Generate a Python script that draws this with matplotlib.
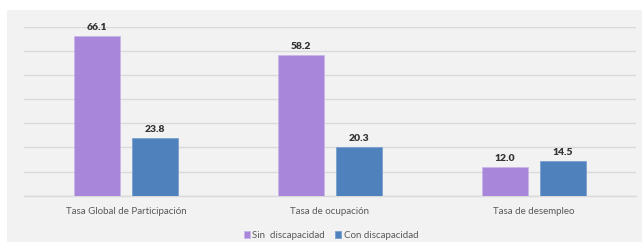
import matplotlib
matplotlib.use("Agg")
import matplotlib.pyplot as plt
from matplotlib.patches import Rectangle
import numpy as np

categories = ["Tasa Global de Participación", "Tasa de ocupación", "Tasa de desempleo"]
sin_disc = [66.1, 58.2, 12.0]
con_disc = [23.8, 20.3, 14.5]
series_names = ["Sin  discapacidad", "Con discapacidad"]

W, H = 644, 242
fig = plt.figure(figsize=(W / 100, H / 100), dpi=100)
fig.patch.set_facecolor("white")
fig.patches.append(Rectangle((7 / W, 0), (642 - 7) / W, (H - 10) / H,
                             transform=fig.transFigure, facecolor="#f2f2f2",
                             edgecolor="none", zorder=-10))

ax = fig.add_axes([24 / W, (H - 195.7) / H, (636 - 24) / W, (195.7 - 26.7) / H])
ax.set_facecolor("none")
ax.set_zorder(1)

font = ["Lato", "DejaVu Sans"]
x = np.arange(len(categories))
bw = 0.225
off = 0.142
c1, c2 = "#a886d9", "#4f81bd"
b1 = ax.bar(x - off, sin_disc, bw, color=c1, edgecolor="#c9b6ea", linewidth=0.6, zorder=3, label=series_names[0])
b2 = ax.bar(x + off, con_disc, bw, color=c2, edgecolor="#7aa0cf", linewidth=0.6, zorder=3, label=series_names[1])

for bars, vals in ((b1, sin_disc), (b2, con_disc)):
    for r, v in zip(bars, vals):
        ax.text(r.get_x() + r.get_width() / 2, v + 1.6, f"{v:.1f}", ha="center", va="bottom",
                fontsize=7.5, fontweight="heavy", color="#333333", family=font)

ax.set_xlim(-0.5, 2.5)
ax.set_ylim(0, 70)
ax.set_yticks(np.arange(0, 71, 10))
ax.yaxis.grid(True, color="#d9d9d9", linewidth=1.0, zorder=0)
ax.set_axisbelow(True)
ax.tick_params(axis="y", length=0, labelleft=False)
ax.tick_params(axis="x", length=0, pad=8, labelsize=7, labelcolor="#595959")
ax.set_xticks(x)
ax.set_xticklabels(categories, family=font)
for s in ("top", "right", "left"):
    ax.spines[s].set_visible(False)
ax.spines["bottom"].set_color("#d9d9d9")
ax.spines["bottom"].set_linewidth(1.0)

leg = fig.legend(handles=[b1, b2], labels=series_names, loc="center",
                 bbox_to_anchor=(331 / W, (H - 235.5) / H), ncol=2, frameon=False,
                 handlelength=0.6, handleheight=0.7, handletextpad=0.3, columnspacing=1.0,
                 prop={"family": font, "size": 7})
for t in leg.get_texts():
    t.set_color("#595959")

fig.savefig("out.png", dpi=100, facecolor=fig.get_facecolor())
